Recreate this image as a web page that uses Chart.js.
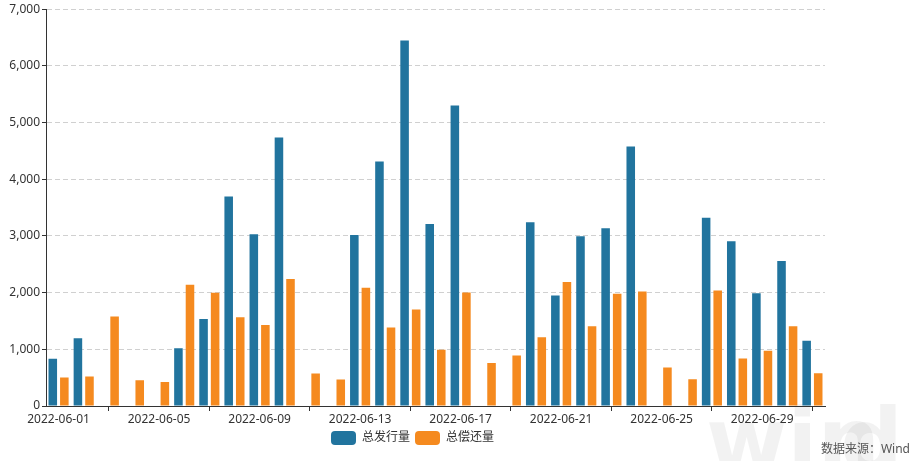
<!DOCTYPE html>
<html>
<head>
<meta charset="utf-8">
<script src="https://cdn.jsdelivr.net/npm/chart.js@4/dist/chart.umd.min.js"></script>
<style>
  html, body { margin: 0; padding: 0; background: #fff; }
  #wrap { position: relative; width: 915px; height: 461px; }
</style>
</head>
<body>
<div id="wrap"><canvas id="c" width="915" height="461"></canvas></div>
<script>
const categories = [
  "2022-06-01","2022-06-02","2022-06-03","2022-06-04","2022-06-05","2022-06-06","2022-06-07","2022-06-08",
  "2022-06-09","2022-06-10","2022-06-11","2022-06-12","2022-06-13","2022-06-14","2022-06-15","2022-06-16",
  "2022-06-17","2022-06-18","2022-06-19","2022-06-20","2022-06-21","2022-06-22","2022-06-23","2022-06-24",
  "2022-06-25","2022-06-26","2022-06-27","2022-06-28","2022-06-29","2022-06-30","2022-07-01"
];
const issuance = [
  835, 1193, 0, 0, 0, 1020, 1535, 3695, 3030, 4735, 0, 0, 3015, 4315, 6450, 3210,
  5300, 0, 0, 3240, 1950, 2995, 3135, 4580, 0, 0, 3320, 2908, 1990, 2558, 1152
];
const repayment = [
  502, 520, 1578, 455, 425, 2138, 1998, 1566, 1430, 2240, 573, 467, 2087, 1383, 1702, 993,
  2004, 757, 892, 1211, 2187, 1406, 1980, 2021, 680, 473, 2039, 839, 975, 1406, 579
];
const seriesNames = ["总发行量", "总偿还量"];
const yTicks = [0, 1000, 2000, 3000, 4000, 5000, 6000, 7000];

const BLUE = '#21749e';
const ORANGE = '#f58a1f';
const FONT = '"Noto Sans", "Noto Sans CJK SC", sans-serif';

const extras = {
  id: 'extras',
  beforeDraw(chart) {
    const ctx = chart.ctx;
    ctx.save();
    ctx.fillStyle = 'rgba(0,0,0,0.05)';
    ctx.font = 'bold 88px "DejaVu Sans", sans-serif';
    ctx.textBaseline = 'alphabetic';
    ctx.textAlign = 'left';
    ctx.fillText('win', 706, 470);
    ctx.fillText('d', 840, 470);
    ctx.restore();
  },
  afterDraw(chart) {
    const ctx = chart.ctx;
    ctx.save();
    ctx.fillStyle = '#555';
    ctx.font = '12px ' + FONT;
    ctx.textAlign = 'right';
    ctx.textBaseline = 'middle';
    ctx.fillText('数据来源：Wind', 910, 450);
    ctx.restore();
  }
};

new Chart(document.getElementById('c'), {
  type: 'bar',
  data: {
    labels: categories,
    datasets: [
      { label: seriesNames[0], data: issuance, backgroundColor: BLUE },
      { label: seriesNames[1], data: repayment, backgroundColor: ORANGE }
    ]
  },
  options: {
    responsive: false,
    animation: false,
    layout: { padding: { left: 0, right: 90, top: 6, bottom: 6 } },
    datasets: { bar: { categoryPercentage: 0.92, barPercentage: 0.74 } },
    plugins: {
      tooltip: { enabled: false },
      legend: {
        position: 'bottom',
        labels: {
          boxWidth: 25, boxHeight: 14, useBorderRadius: true, borderRadius: 4,
          color: '#333', font: { size: 12, family: FONT }, padding: 5
        }
      }
    },
    scales: {
      x: {
        offset: true,
        afterFit(s) { s.height = 20; },
        grid: {
          offset: false, drawOnChartArea: false, drawTicks: true, tickLength: 5,
          color: (c) => (c.index % 4 === 2 ? '#333' : 'rgba(0,0,0,0)')
        },
        border: { display: true, color: '#333' },
        ticks: {
          autoSkip: false, maxRotation: 0, padding: 1,
          color: '#333', font: { size: 12, family: FONT },
          callback: function (v, i) { return i % 4 === 0 ? categories[i] : ''; }
        }
      },
      y: {
        min: 0, max: 7000,
        afterFit(s) { s.width = 46; },
        afterBuildTicks(s) { s.ticks = yTicks.map(v => ({ value: v })); },
        grid: {
          color: (c) => (c.tick && c.tick.value === 0 ? 'rgba(0,0,0,0)' : '#d0d0d0'),
          tickColor: '#333', tickLength: 4, tickBorderDash: [],
          drawTicks: true
        },
        border: { display: true, color: '#333', dash: [5, 3] },
        ticks: {
          color: '#333', font: { size: 12, family: FONT }, padding: 2,
          callback: (v) => v.toLocaleString('en-US')
        }
      }
    }
  },
  plugins: [extras]
});
</script>
</body>
</html>
